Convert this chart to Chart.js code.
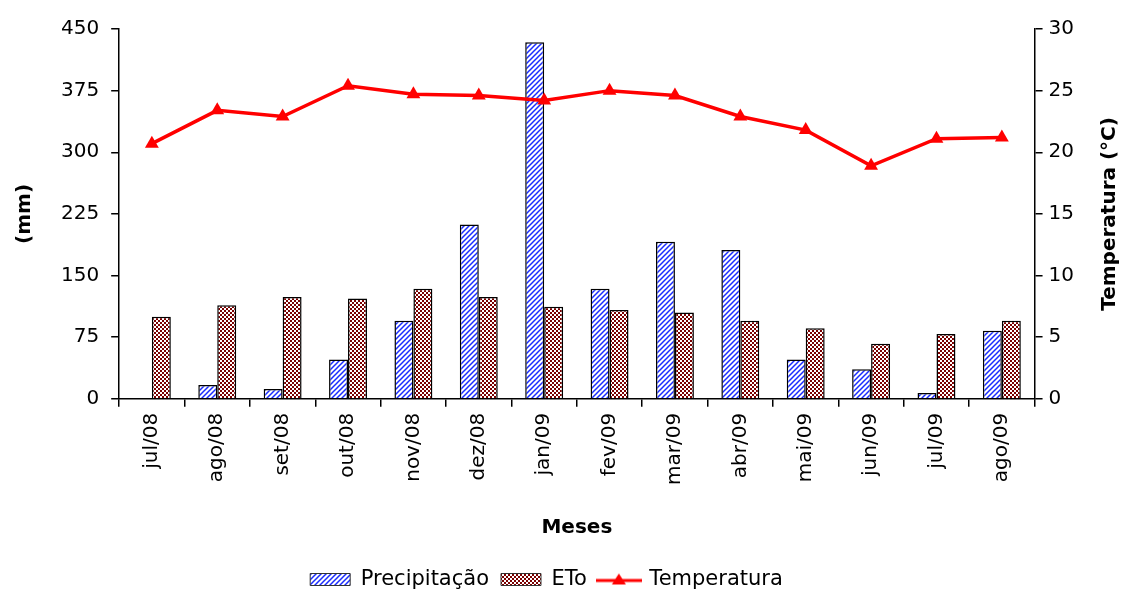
<!DOCTYPE html>
<html>
<head>
<meta charset="utf-8">
<script src="https://cdn.jsdelivr.net/npm/chart.js@4"></script>
<style>
  html, body { margin: 0; padding: 0; background: #fff; }
  #wrap { width: 1130px; height: 590px; }
</style>
</head>
<body>
<div id="wrap"><canvas id="chart"></canvas></div>
<script>
const months = ['jul/08', 'ago/08', 'set/08', 'out/08', 'nov/08', 'dez/08', 'jan/09',
  'fev/09', 'mar/09', 'abr/09', 'mai/09', 'jun/09', 'jul/09', 'ago/09'];
const precipitacao = [0, 17, 12, 48, 95, 212, 434, 134, 191, 181, 48, 36, 7, 83];
const eto = [100, 114, 124, 122, 134, 124, 112, 108, 105, 95, 86, 67, 79, 95];
const temperatura = [20.7, 23.4, 22.9, 25.4, 24.7, 24.6, 24.2, 25.0, 24.6, 22.9, 21.8, 18.9, 21.1, 21.2];
const mmTicks = [0, 75, 150, 225, 300, 375, 450];
const tempTicks = [0, 5, 10, 15, 20, 25, 30];

const FONT = "'DejaVu Sans', Verdana, sans-serif";

function hatchPattern() {
  const c = document.createElement('canvas');
  c.width = 5;
  c.height = 5;
  const g = c.getContext('2d');
  g.fillStyle = '#ffffff';
  g.fillRect(0, 0, 5, 5);
  g.strokeStyle = '#1a2cff';
  g.lineWidth = 1.5;
  g.beginPath();
  g.moveTo(0, 5); g.lineTo(5, 0);
  g.moveTo(-2, 2); g.lineTo(2, -2);
  g.moveTo(3, 7); g.lineTo(7, 3);
  g.stroke();
  return g.createPattern(c, 'repeat');
}

function checkPattern() {
  const c = document.createElement('canvas');
  c.width = 4;
  c.height = 4;
  const g = c.getContext('2d');
  g.fillStyle = '#7a0000';
  g.fillRect(0, 0, 4, 4);
  g.fillStyle = '#ffffff';
  g.fillRect(0, 0, 2, 2);
  g.fillRect(2, 2, 2, 2);
  return g.createPattern(c, 'repeat');
}

function tempLegendIcon() {
  const c = document.createElement('canvas');
  c.width = 46;
  c.height = 16;
  const g = c.getContext('2d');
  g.strokeStyle = '#ff0000';
  g.lineWidth = 3;
  g.beginPath();
  g.moveTo(0, 9); g.lineTo(46, 9);
  g.stroke();
  g.fillStyle = '#ff0000';
  g.beginPath();
  g.moveTo(23, 2); g.lineTo(30, 13); g.lineTo(16, 13);
  g.closePath();
  g.fill();
  return c;
}

// titulo do eixo direito lendo de baixo para cima, como no original
const rightTitle = {
  id: 'rightTitle',
  afterDraw(chart) {
    const s = chart.scales.y1;
    const ctx = chart.ctx;
    ctx.save();
    ctx.translate(s.right + 30, (s.top + s.bottom) / 2);
    ctx.rotate(-Math.PI / 2);
    ctx.font = `bold 20px ${FONT}`;
    ctx.fillStyle = '#000';
    ctx.textAlign = 'center';
    ctx.textBaseline = 'middle';
    ctx.fillText('Temperatura (°C)', 0, 0);
    ctx.restore();
  },
};

const icon = tempLegendIcon();

new Chart(document.getElementById('chart'), {
  type: 'bar',
  data: {
    labels: months,
    datasets: [
      {
        label: 'Precipitação',
        data: precipitacao,
        backgroundColor: hatchPattern(),
        borderColor: '#000',
        borderWidth: 1.5,
        yAxisID: 'y',
        order: 1,
      },
      {
        label: 'ETo',
        data: eto,
        backgroundColor: checkPattern(),
        borderColor: '#000',
        borderWidth: 1.5,
        yAxisID: 'y',
        order: 1,
      },
      {
        type: 'line',
        label: 'Temperatura',
        data: temperatura,
        borderColor: '#ff0000',
        backgroundColor: '#ff0000',
        borderWidth: 3.5,
        pointStyle: 'triangle',
        pointRadius: 8,
        pointBorderWidth: 0,
        tension: 0,
        yAxisID: 'y1',
        order: 0,
      },
    ],
  },
  options: {
    responsive: true,
    maintainAspectRatio: false,
    animation: false,
    datasets: {
      bar: { categoryPercentage: 0.58, barPercentage: 1.0 },
    },
    layout: { padding: { left: 13, right: 50, top: 29, bottom: -10 } },
    plugins: {
      tooltip: { enabled: false },
      legend: {
        position: 'bottom',
        labels: {
          color: '#000',
          font: { family: FONT, size: 21 },
          usePointStyle: true,
          pointStyleWidth: 40,
          boxHeight: 12,
          padding: 12,
          sort: (a, b) => a.datasetIndex - b.datasetIndex,
          generateLabels(chart) {
            const items = Chart.defaults.plugins.legend.labels.generateLabels(chart);
            items.forEach((it) => {
              if (it.datasetIndex === 2) {
                it.pointStyle = icon;
              } else {
                it.pointStyle = 'rect';
                it.lineWidth = 1;
                it.strokeStyle = '#333';
              }
            });
            return items;
          },
        },
      },
    },
    scales: {
      x: {
        offset: true,
        grid: {
          offset: true,
          drawOnChartArea: false,
          color: '#000',
          lineWidth: 1.5,
          tickLength: 8,
        },
        border: { color: '#000', width: 1.5 },
        ticks: {
          color: '#000',
          font: { family: FONT, size: 20 },
          minRotation: 90,
          maxRotation: 90,
          padding: 6,
        },
        title: {
          display: true,
          text: 'Meses',
          color: '#000',
          font: { family: FONT, size: 20, weight: 'bold' },
          padding: { top: 25, bottom: 17 },
        },
      },
      y: {
        position: 'left',
        min: 0,
        max: 450,
        afterBuildTicks(scale) {
          scale.ticks = mmTicks.map((v) => ({ value: v }));
        },
        grid: {
          drawOnChartArea: false,
          color: '#000',
          lineWidth: 1.5,
          tickLength: 8,
        },
        border: { color: '#000', width: 1.5 },
        ticks: {
          color: '#000',
          font: { family: FONT, size: 20 },
          padding: 12,
        },
        title: {
          display: true,
          text: '(mm)',
          color: '#000',
          font: { family: FONT, size: 20, weight: 'bold' },
          padding: { top: 0, bottom: 12 },
        },
      },
      y1: {
        position: 'right',
        min: 0,
        max: 30,
        afterBuildTicks(scale) {
          scale.ticks = tempTicks.map((v) => ({ value: v }));
        },
        grid: {
          drawOnChartArea: false,
          color: '#000',
          lineWidth: 1.5,
          tickLength: 8,
        },
        border: { color: '#000', width: 1.5 },
        ticks: {
          color: '#000',
          font: { family: FONT, size: 20 },
          padding: 6,
        },
      },
    },
  },
  plugins: [rightTitle],
});
</script>
</body>
</html>
